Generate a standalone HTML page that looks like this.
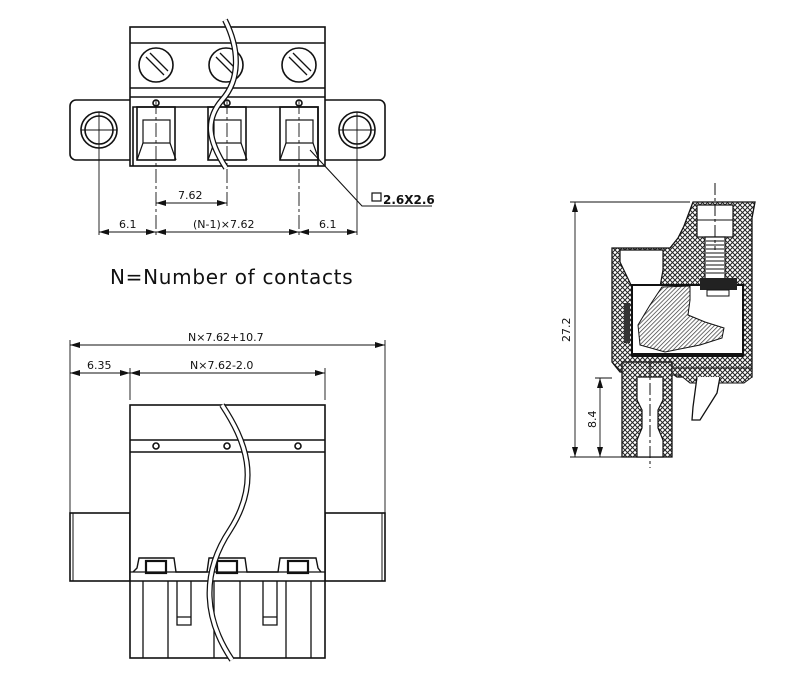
<!DOCTYPE html>
<html><head><meta charset="utf-8"><style>
html,body{margin:0;padding:0;background:#fff}
svg{display:block}
text{font-family:"DejaVu Sans","Liberation Sans",sans-serif;fill:#111}
</style></head><body>
<svg width="800" height="699" viewBox="0 0 800 699" xmlns="http://www.w3.org/2000/svg">
<defs>
<pattern id="ch" width="5" height="5" patternUnits="userSpaceOnUse">
<rect width="5" height="5" fill="#fff"/>
<path d="M0 0L5 5M5 0L0 5" stroke="#222" stroke-width="1"/>
</pattern>
<pattern id="dh" width="3" height="3" patternUnits="userSpaceOnUse" patternTransform="rotate(45)">
<rect width="3" height="3" fill="#fff"/>
<line x1="0" y1="0" x2="0" y2="3" stroke="#333" stroke-width="1.4"/>
</pattern>
<marker id="a" viewBox="0 0 10 6" refX="10" refY="3" markerWidth="10" markerHeight="6" orient="auto-start-reverse" markerUnits="userSpaceOnUse"><path d="M0 0L10 3L0 6z" fill="#111"/></marker>
</defs>
<g fill="none" stroke="#111" stroke-width="1.6">
<!-- TOP VIEW -->
<rect x="70" y="100" width="315" height="60" rx="6" fill="#fff"/>
<rect x="130" y="27" width="195" height="139" fill="#fff"/>
<line x1="130" y1="43" x2="325" y2="43"/>
<line x1="130" y1="88" x2="325" y2="88"/>
<line x1="130" y1="97" x2="325" y2="97"/>
<circle cx="156" cy="65" r="17"/><circle cx="226" cy="65" r="17"/><circle cx="299" cy="65" r="17"/>
<g stroke-width="1.3">
<path d="M146 57L164 75M150 53L168 71M216 57L234 75M220 53L238 71M289 57L307 75M293 53L311 71"/>
</g>
<path d="M133 166V107H318V166"/>
<g id="pk">
<rect x="137" y="107" width="38" height="53"/>
<rect x="143" y="120" width="27" height="23" stroke-width="1.2"/>
<path d="M143 143L137 160M170 143L176 160" stroke-width="1.2"/>
<circle cx="156" cy="103" r="3"/>
</g>
<use href="#pk" x="71"/><use href="#pk" x="143"/>
<circle cx="99" cy="130" r="18"/><circle cx="99" cy="130" r="14"/>
<circle cx="357" cy="130" r="18"/><circle cx="357" cy="130" r="14"/>
<g stroke-width="0.9">
<path d="M99 112V235M81 130H117M357 112V235M339 130H375"/>
<path d="M156 100V235M227 100V207M299 100V235" stroke-dasharray="14 3 3 3"/>
<line x1="156" y1="203" x2="227" y2="203" marker-start="url(#a)" marker-end="url(#a)"/>
<line x1="99" y1="232" x2="156" y2="232" marker-start="url(#a)" marker-end="url(#a)"/>
<line x1="156" y1="232" x2="299" y2="232" marker-start="url(#a)" marker-end="url(#a)"/>
<line x1="299" y1="232" x2="357" y2="232" marker-start="url(#a)" marker-end="url(#a)"/>
<path d="M310 150L362 206H432" stroke-width="1.1"/>
</g>
<rect x="372" y="193" width="9" height="8" stroke-width="1.2"/>
<!-- wire top -->
<path d="M225 20C240 50 240 80 222 100C205 120 208 140 226 168" stroke-width="6" stroke="#111"/>
<path d="M225 20C240 50 240 80 222 100C205 120 208 140 226 168" stroke-width="3.5" stroke="#fff"/>

<!-- BOTTOM VIEW -->
<g stroke-width="0.9">
<line x1="70" y1="345" x2="385" y2="345" marker-start="url(#a)" marker-end="url(#a)"/>
<line x1="70" y1="373" x2="130" y2="373" marker-start="url(#a)" marker-end="url(#a)"/>
<line x1="130" y1="373" x2="325" y2="373" marker-start="url(#a)" marker-end="url(#a)"/>
<path d="M70 340V513M385 340V513M130 368V400M325 368V400"/>
</g>
<rect x="70" y="513" width="60" height="68" fill="#fff"/>
<rect x="325" y="513" width="60" height="68" fill="#fff"/>
<path d="M73 513V581M382 513V581" stroke-width="1"/>
<rect x="130" y="405" width="195" height="253" fill="#fff"/>
<line x1="130" y1="440" x2="325" y2="440"/>
<line x1="130" y1="452" x2="325" y2="452"/>
<circle cx="156" cy="446" r="3"/><circle cx="227" cy="446" r="3"/><circle cx="298" cy="446" r="3"/>
<path d="M130 581H325"/>
<path d="M133 572L137 568L139 558H174L176 572H207L209 558H245L247 572H278L280 558H316L318 568L321 572" stroke-width="1.4"/>
<path d="M130 572H325" stroke-width="1.2"/>
<rect x="146" y="561" width="20" height="12" stroke-width="2.2"/>
<rect x="217" y="561" width="20" height="12" stroke-width="2.2"/>
<rect x="288" y="561" width="20" height="12" stroke-width="2.2"/>
<path d="M143 581V658M168 581V658M214 581V658M240 581V658M286 581V658M311 581V658" stroke-width="1.3"/>
<path d="M177 581V625H191V581M177 617H191M263 581V625H277V581M263 617H277" stroke-width="1.3"/>
<path d="M222 405C245 440 262 480 230 530C200 575 205 620 232 660" stroke-width="6" stroke="#111"/>
<path d="M222 405C245 440 262 480 230 530C200 575 205 620 232 660" stroke-width="3.5" stroke="#fff"/>

<!-- SIDE VIEW -->
<g stroke-width="0.9">
<line x1="575" y1="202" x2="575" y2="457" marker-start="url(#a)" marker-end="url(#a)"/>
<line x1="600" y1="378" x2="600" y2="457" marker-start="url(#a)" marker-end="url(#a)"/>
<path d="M570 202H690M570 457H625M595 378H612"/>
</g>
<path d="M693 202H755L752 218V377H677L670 372H620L612 362V248H670L678 238L684 226Z" fill="url(#ch)" stroke-width="1.3"/>
<path d="M622 362H672V457H622Z" fill="url(#ch)" stroke-width="1.3"/>
<path d="M672 368H752V377L744 383H690L680 375H672Z" fill="url(#ch)" stroke-width="1"/>
<path d="M637 377H663V400L658 410V428L663 440V457H637V440L642 428V410L637 400Z" fill="#fff" stroke-width="1.2"/>
<rect x="697" y="205" width="36" height="32" fill="#fff" stroke-width="1.2"/>
<line x1="697" y1="220" x2="733" y2="220" stroke-width="1"/>
<rect x="705" y="237" width="20" height="42" fill="#fff" stroke-width="1.2"/>
<path d="M706 241H724M706 245H724M706 249H724M706 253H724M706 257H724M706 261H724M706 265H724M706 269H724M706 273H724" stroke-width="1"/>
<path d="M620 250H663V270L660 287H632L620 262Z" fill="#fff" stroke-width="1.2"/>
<rect x="632" y="285" width="111" height="70" fill="#fff" stroke-width="2"/>
<rect x="700" y="278" width="37" height="12" fill="#222" stroke="none"/>
<rect x="707" y="290" width="22" height="6" fill="#fff" stroke-width="1"/>
<rect x="624" y="303" width="6" height="40" fill="#333" stroke="none"/>
<rect x="632" y="353" width="111" height="4" fill="#111" stroke="none"/>
<path d="M662 287L690 286L690 300L688 315L705 322L724 328L722 338L700 345L665 352L640 345L638 325L650 305Z" fill="url(#dh)" stroke-width="1"/>
<path d="M697 377L693 407L692 420L700 420L717 393L720 377" fill="#fff" stroke-width="1.3"/>
<path d="M715 183V250M650 362V468" stroke-width="1" stroke-dasharray="12 3 3 3"/>
</g>
<g font-size="11">
<text x="178" y="199">7.62</text>
<text x="119" y="228">6.1</text>
<text x="193" y="228">(N-1)×7.62</text>
<text x="319" y="228">6.1</text>
<text x="383" y="204" font-weight="bold" font-size="12">2.6X2.6</text>
<text x="188" y="341">N×7.62+10.7</text>
<text x="87" y="369">6.35</text>
<text x="190" y="369">N×7.62-2.0</text>
<text transform="translate(570,342) rotate(-90)">27.2</text>
<text transform="translate(596,428) rotate(-90)">8.4</text>
</g>
<text x="110" y="284" font-size="20" letter-spacing="0.7" style="font-family:'DejaVu Sans',sans-serif">N=Number of contacts</text>
</svg>
</body></html>
